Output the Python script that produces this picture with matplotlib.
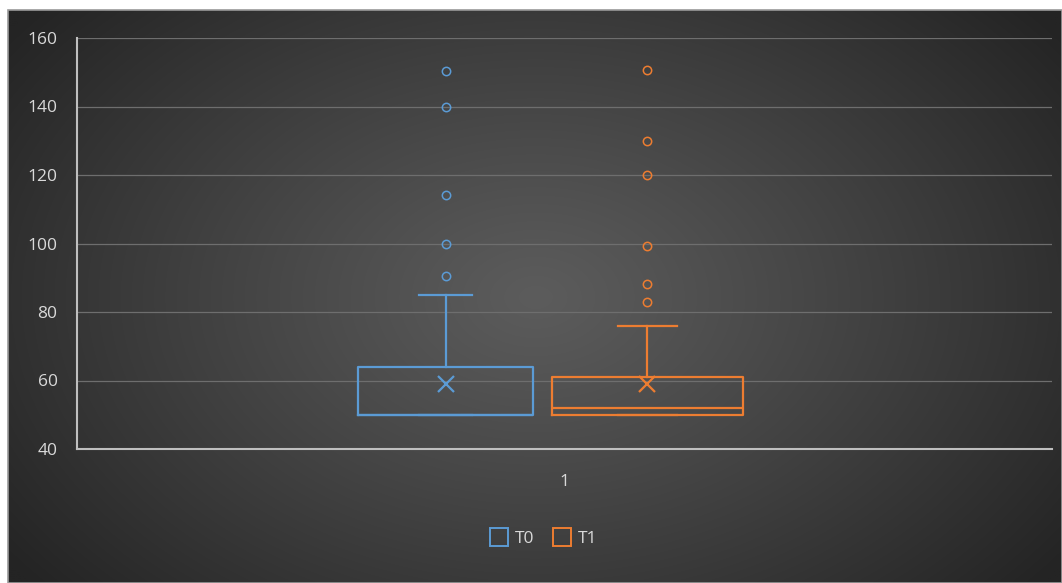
import numpy as np
import matplotlib
matplotlib.use("Agg")
import matplotlib.pyplot as plt
from matplotlib.patches import Rectangle
from matplotlib.lines import Line2D

# Box-plot summary statistics for the two series
series = ["T0", "T1"]
q1 = [50, 50]
medians = [50, 52]
q3 = [64, 61]
whisker_low = [50, 50]
whisker_high = [85, 76]
means = [59, 59]
outliers = [
    [150.4, 140, 114.2, 100, 90.5],
    [150.7, 130, 120, 99.3, 88.2, 83],
]
category_label = "1"
y_ticks = [40, 60, 80, 100, 120, 140, 160]

colors = ["#5B9BD5", "#ED7D31"]
text_color = "#D9D9D9"
font = "Open Sans"
fsize = 12.5

W, H = 1062, 583
fig = plt.figure(figsize=(W / 100, H / 100), dpi=100)
fig.patch.set_facecolor("white")

# Dark radial-gradient chart background
bg = fig.add_axes([8 / W, 0, (W - 8) / W, (H - 10) / H])
bg.set_axis_off()
ny, nx = 300, 560
yy, xx = np.mgrid[0:ny, 0:nx]
cx, cy = nx * 0.50, ny * 0.50
r = np.sqrt(((xx - cx) / (nx * 0.62)) ** 2 + ((yy - cy) / (ny * 0.78)) ** 2)
r = np.clip(r, 0, 1)
inner, outer = 0x5C / 255, 0x24 / 255
val = inner + (outer - inner) * r ** 1.1
img = np.dstack([val, val, val])
bg.imshow(img, extent=[0, 1, 0, 1], aspect="auto", interpolation="bilinear")
bg.set_xlim(0, 1)
bg.set_ylim(0, 1)
bg.add_patch(Rectangle((0, 0), 1, 1, transform=bg.transAxes, fill=False,
                       edgecolor="#9a9a9a", lw=1.2, clip_on=False))

# Plot area
left_px, right_px, top_px, bot_px = 77, 1052, 38, 449
ax = fig.add_axes([left_px / W, 1 - bot_px / H,
                   (right_px - left_px) / W, (bot_px - top_px) / H])
ax.set_facecolor("none")
ax.set_xlim(0, 1)
ax.set_ylim(40, 160)

positions = [0.378, 0.585]
widths = [0.179, 0.196]
cap_w = [0.054, 0.060]

for i in range(len(series)):
    stats = [{
        "med": medians[i], "q1": q1[i], "q3": q3[i],
        "whislo": whisker_low[i], "whishi": whisker_high[i],
        "mean": means[i], "fliers": outliers[i], "label": series[i],
    }]
    c = colors[i]
    ax.bxp(stats, positions=[positions[i]], widths=widths[i],
           showmeans=True, showfliers=True, patch_artist=False,
           capwidths=cap_w[i], manage_ticks=False,
           boxprops=dict(color=c, lw=1.6),
           medianprops=dict(color=c, lw=1.6),
           whiskerprops=dict(color=c, lw=1.6),
           capprops=dict(color=c, lw=1.6),
           meanprops=dict(marker="x", markeredgecolor=c, markersize=11,
                          markeredgewidth=1.6),
           flierprops=dict(marker="o", markerfacecolor="none",
                           markeredgecolor=c, markersize=6,
                           markeredgewidth=1.1),
           zorder=3)

ax.set_yticks(y_ticks)
ax.set_yticklabels([str(t) for t in y_ticks])
ax.grid(axis="y", color="#6e6e6e", lw=0.9, zorder=0)
ax.set_axisbelow(True)
ax.set_xticks([0.5])
ax.set_xticklabels([category_label])
ax.tick_params(axis="both", length=0, colors=text_color, labelsize=fsize)
ax.tick_params(axis="y", pad=14)
ax.tick_params(axis="x", pad=18)
for lbl in ax.get_xticklabels() + ax.get_yticklabels():
    lbl.set_fontfamily(font)
for side in ["top", "right"]:
    ax.spines[side].set_visible(False)
for side in ["left", "bottom"]:
    ax.spines[side].set_color("#bfbfbf")
    ax.spines[side].set_linewidth(1.5)

handles = [Line2D([], [], marker="s", linestyle="none", markersize=13,
                  markerfacecolor="none", markeredgecolor=c,
                  markeredgewidth=1.4) for c in colors]
leg = fig.legend(handles, series, loc="center", bbox_to_anchor=(543 / W, 1 - 539 / H),
                 ncol=2, frameon=False, handletextpad=0.3, columnspacing=1.0,
                 handlelength=1.2, prop={"family": font, "size": fsize})
for t in leg.get_texts():
    t.set_color(text_color)

fig.savefig("out.png", dpi=100)
